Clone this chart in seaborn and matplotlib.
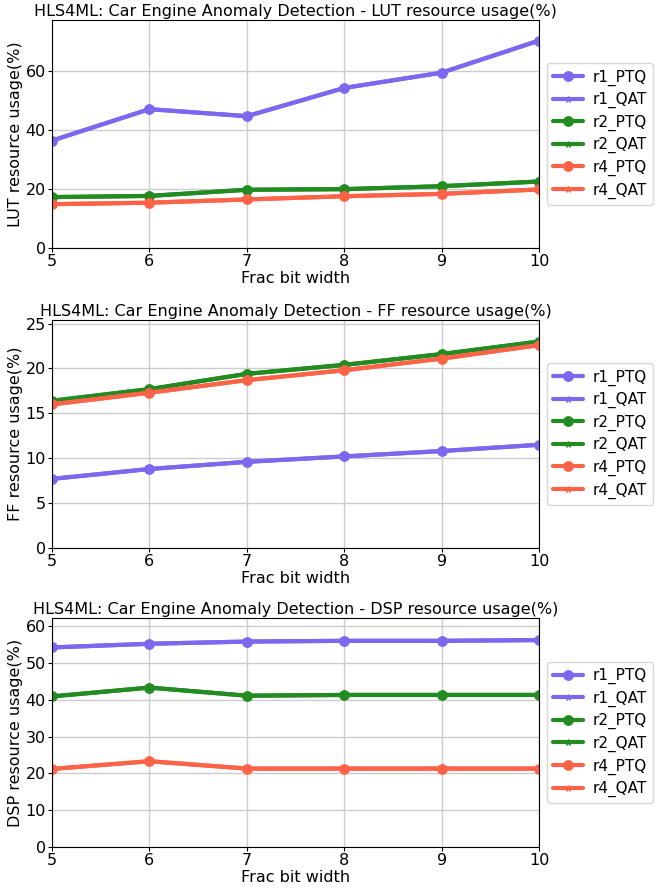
import matplotlib
matplotlib.use("Agg")
import matplotlib.pyplot as plt
import seaborn as sns
import pandas as pd

sns.set_style("ticks")
plt.rcParams['font.family'] = ['DejaVu Sans']
plt.rcParams.update({"text.color": "black", "axes.labelcolor": "black",
                     "xtick.color": "black", "ytick.color": "black"})

frac_bits = [5, 6, 7, 8, 9, 10]
series_names = ["r1_PTQ", "r1_QAT", "r2_PTQ", "r2_QAT", "r4_PTQ", "r4_QAT"]

lut_r1_ptq = [36.5, 47.2, 44.8, 54.4, 59.6, 70.5]
lut_r1_qat = [36.5, 47.2, 44.8, 54.4, 59.6, 70.5]
lut_r2_ptq = [17.3, 17.7, 19.8, 20.0, 21.0, 22.6]
lut_r2_qat = [17.3, 17.7, 19.8, 20.0, 21.0, 22.6]
lut_r4_ptq = [14.9, 15.4, 16.5, 17.6, 18.4, 19.9]
lut_r4_qat = [14.9, 15.4, 16.5, 17.6, 18.4, 19.9]

ff_r1_ptq = [7.7, 8.8, 9.6, 10.2, 10.8, 11.5]
ff_r1_qat = [7.7, 8.8, 9.6, 10.2, 10.8, 11.5]
ff_r2_ptq = [16.4, 17.7, 19.4, 20.4, 21.6, 23.0]
ff_r2_qat = [16.4, 17.7, 19.4, 20.4, 21.6, 23.0]
ff_r4_ptq = [16.0, 17.3, 18.7, 19.8, 21.1, 22.6]
ff_r4_qat = [16.0, 17.3, 18.7, 19.8, 21.1, 22.6]

dsp_r1_ptq = [54.2, 55.2, 55.8, 56.0, 56.0, 56.2]
dsp_r1_qat = [54.2, 55.2, 55.8, 56.0, 56.0, 56.2]
dsp_r2_ptq = [40.9, 43.3, 41.1, 41.3, 41.3, 41.3]
dsp_r2_qat = [40.9, 43.3, 41.1, 41.3, 41.3, 41.3]
dsp_r4_ptq = [21.2, 23.3, 21.3, 21.3, 21.3, 21.3]
dsp_r4_qat = [21.2, 23.3, 21.3, 21.3, 21.3, 21.3]

panels = [
    ("LUT", [lut_r1_ptq, lut_r1_qat, lut_r2_ptq, lut_r2_qat, lut_r4_ptq, lut_r4_qat], 77.5, [0, 20, 40, 60]),
    ("FF", [ff_r1_ptq, ff_r1_qat, ff_r2_ptq, ff_r2_qat, ff_r4_ptq, ff_r4_qat], 25.4, [0, 5, 10, 15, 20, 25]),
    ("DSP", [dsp_r1_ptq, dsp_r1_qat, dsp_r2_ptq, dsp_r2_qat, dsp_r4_ptq, dsp_r4_qat], 62.2, [0, 10, 20, 30, 40, 50, 60]),
]

colors = ["mediumslateblue", "mediumslateblue", "forestgreen", "forestgreen", "tomato", "tomato"]
markers = ["o", "*", "o", "*", "o", "*"]
msizes = [7, 5, 7, 5, 7, 5]

fig = plt.figure(figsize=(6.56, 8.88), dpi=100)
# (top, bottom) of each axes in pixels
boxes = [(20, 248), (320, 548), (618, 847)]
for (res, vals, ymax, yticks), (top, bot) in zip(panels, boxes):
    ax = fig.add_axes([52 / 656, 1 - bot / 888, 487 / 656, (bot - top) / 888])
    for name, v, c, m, ms in zip(series_names, vals, colors, markers, msizes):
        df = pd.DataFrame({"x": frac_bits, "y": v})
        sns.lineplot(data=df, x="x", y="y", ax=ax, color=c, marker=m, markersize=ms,
                     markeredgecolor=c, linewidth=3, label=name)
    ax.set_xlim(5, 10)
    ax.set_ylim(0, ymax)
    ax.set_yticks(yticks)
    ax.set_xticks(frac_bits)
    ax.grid(True, color="#cccccc", linewidth=1)
    ax.tick_params(labelsize=11.5, length=3, pad=1.5)
    ax.set_xlabel("Frac bit width", fontsize=11.5, labelpad=1)
    ax.set_ylabel(f"{res} resource usage(%)", fontsize=11.5, labelpad=2)
    ax.set_title(f"HLS4ML: Car Engine Anomaly Detection - {res} resource usage(%)", fontsize=11.5, pad=3)
    for s in ax.spines.values():
        s.set_color("black")
    ax.legend(loc="center left", bbox_to_anchor=(1.0, 0.5), fontsize=11, labelspacing=0.42,
              handletextpad=0.6)

fig.savefig("out.png", dpi=100)
